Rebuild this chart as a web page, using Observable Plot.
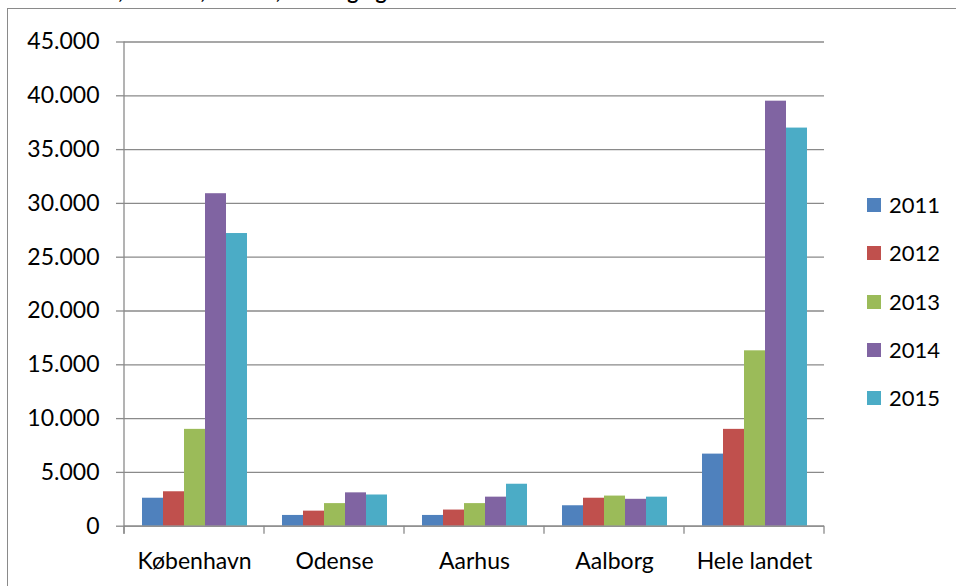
<!DOCTYPE html>
<html>
<head>
<meta charset="utf-8">
<script src="https://cdn.jsdelivr.net/npm/d3@7"></script>
<script src="https://cdn.jsdelivr.net/npm/@observablehq/plot@0.6"></script>
<style>
html, body { margin: 0; padding: 0; background: #fff; }
#wrap { position: relative; width: 956px; height: 586px; overflow: hidden; font-family: Lato, sans-serif; color: #000; }
#title { position: absolute; left: 0; top: 0; width: 956px; height: 9px; overflow: hidden; }
#title span { position: absolute; left: 12px; top: -20px; font: bold 21px/22px Lato, sans-serif; white-space: nowrap; }
#frame { position: absolute; left: 7px; top: 8px; width: 2000px; height: 2000px; border-left: 1.5px solid #8a8a8a; border-top: 1.5px solid #8a8a8a; }
#chart { position: absolute; left: 0; top: 0; }
#legend { position: absolute; left: 867px; top: 0; }
.item { position: absolute; left: 0; height: 24px; display: flex; align-items: center; white-space: nowrap; font-size: 22px; line-height: 24px; }
.sw { width: 14px; height: 14px; margin-right: 8px; }
</style>
</head>
<body>
<div id="wrap">
  <div id="title"><span>København, Odense, Aarhus, Aalborg og hele landet</span></div>
  <div id="frame"></div>
  <div id="chart"></div>
  <div id="legend"></div>
</div>
<script>
// ---- data ----
const cities = ["København", "Odense", "Aarhus", "Aalborg", "Hele landet"];
const years = ["2011", "2012", "2013", "2014", "2015"];
const v2011 = [2600, 1000, 1000, 1900, 6700];
const v2012 = [3200, 1400, 1500, 2600, 9000];
const v2013 = [9000, 2100, 2100, 2800, 16300];
const v2014 = [30900, 3100, 2700, 2500, 39500];
const v2015 = [27200, 2900, 3900, 2700, 37000];
const yTicks = [0, 5000, 10000, 15000, 20000, 25000, 30000, 35000, 40000, 45000];
const yTickLabels = ["0", "5.000", "10.000", "15.000", "20.000", "25.000", "30.000", "35.000", "40.000", "45.000"];
const palette = ["#4F81BD", "#C0504D", "#9BBB59", "#8064A2", "#4BACC6"];

const series = [v2011, v2012, v2013, v2014, v2015];
const rows = [];
years.forEach((yr, j) => cities.forEach((c, i) => rows.push({city: c, year: yr, value: series[j][i]})));

const gridColor = "#8a8a8a";
const gridWidth = 1.3;

const chart = Plot.plot({
  width: 956,
  height: 586,
  marginTop: 41.5,
  marginBottom: 60.3,
  marginLeft: 124,
  marginRight: 132,
  style: {fontFamily: "Lato, sans-serif", fontSize: "23px", color: "#000", background: "transparent", overflow: "visible"},
  fx: {domain: cities, padding: 0, axis: null, label: null},
  x: {domain: years, paddingInner: 0, paddingOuter: 0.756, axis: null},
  y: {domain: [0, 45000], axis: null},
  color: {domain: years, range: palette},
  marks: [
    Plot.ruleY(yTicks, {stroke: gridColor, strokeWidth: gridWidth}),
    Plot.barY(rows, {fx: "city", x: "year", y: "value", fill: "year", inset: 0}),
    Plot.ruleY([0], {stroke: gridColor, strokeWidth: gridWidth}),
    Plot.axisY({ticks: yTicks, tickFormat: d => yTickLabels[yTicks.indexOf(d)], tickSize: 8, tickPadding: 17,
                stroke: gridColor, strokeWidth: gridWidth, label: null}),
    Plot.axisFx({anchor: "bottom", tickSize: 0, tickPadding: 26, label: null})
  ]
});

// axis line and category boundary ticks, placed through the plot's own scales
const fx = chart.scale("fx");
const ys = chart.scale("y");
const bandStart = c => fx.apply ? fx.apply(c) : fx.range[0] + cities.indexOf(c) * fx.step;
const bw = fx.bandwidth;
const y0 = ys.apply ? ys.apply(0) : ys.range[0];
const yTop = ys.apply ? ys.apply(yTicks[yTicks.length - 1]) : ys.range[1];
const boundaries = cities.map(bandStart).concat([bandStart(cities[cities.length - 1]) + bw]);
const g = d3.select(chart).append("g").attr("stroke", gridColor).attr("stroke-width", gridWidth);
g.append("line").attr("x1", boundaries[0]).attr("x2", boundaries[0]).attr("y1", yTop).attr("y2", y0 + 8);
boundaries.forEach(b => g.append("line").attr("x1", b).attr("x2", b).attr("y1", y0).attr("y2", y0 + 8));

document.getElementById("chart").appendChild(chart);

// legend
const legend = d3.select("#legend");
years.forEach((yr, i) => {
  const item = legend.append("div").attr("class", "item").style("top", (193 + i * 48.3) + "px");
  item.append("div").attr("class", "sw").style("background", palette[i]);
  item.append("span").text(yr);
});
</script>
</body>
</html>
